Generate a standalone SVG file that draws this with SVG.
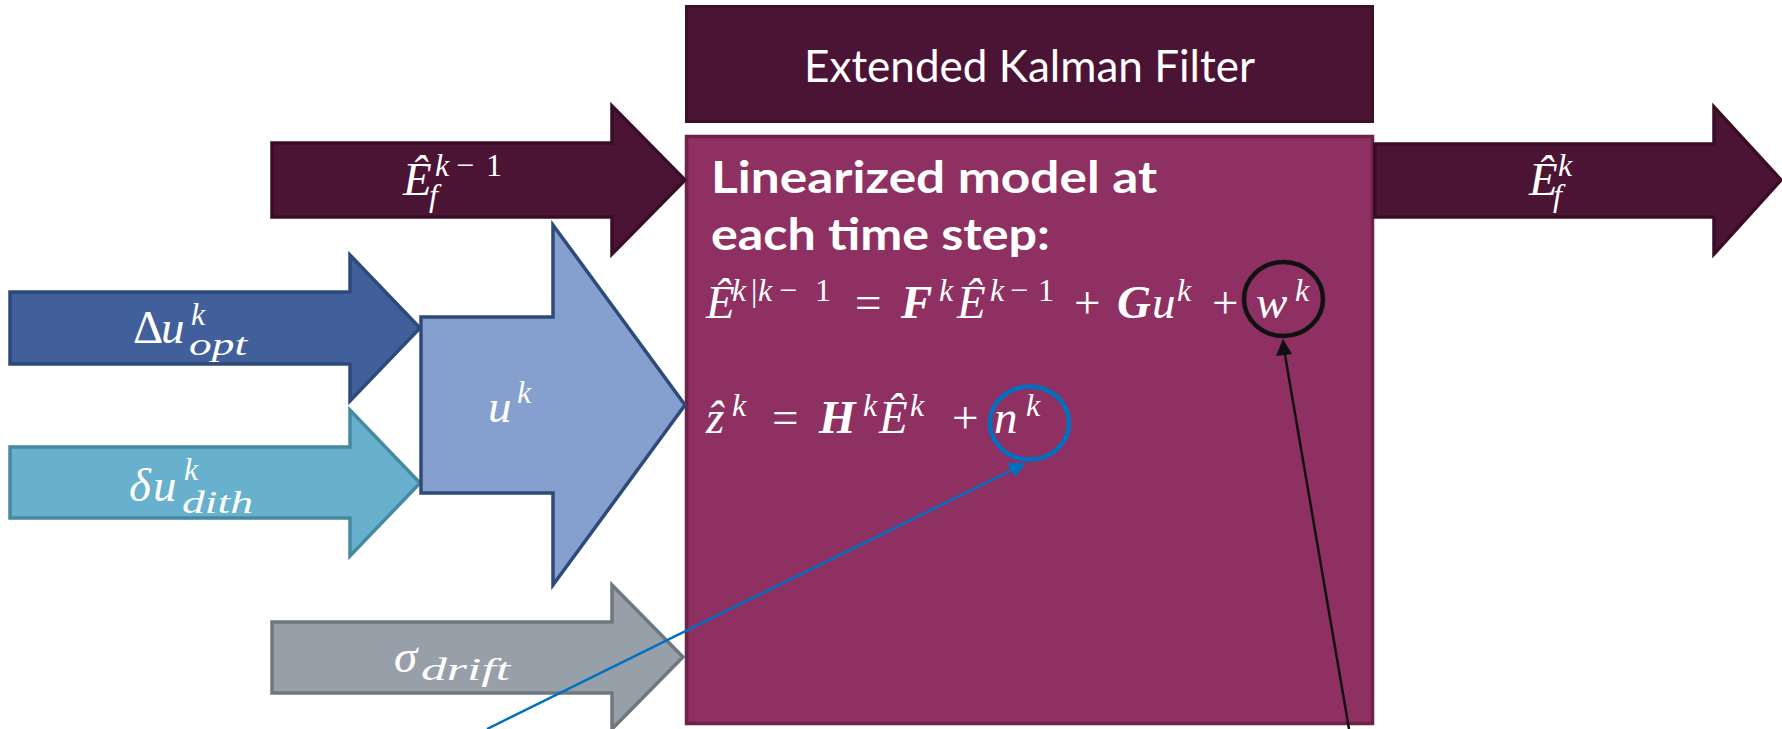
<svg xmlns="http://www.w3.org/2000/svg" width="1782" height="729" viewBox="0 0 1782 729">
<style>
.m{font-family:"Liberation Serif","DejaVu Serif",serif;font-style:italic;fill:#fff;font-size:47px}
.s{font-size:32px}
.r{font-style:normal}
.b{font-weight:bold}
.t{font-family:Lato,"Liberation Sans",sans-serif;fill:#fff}
.arr{stroke-width:3.5;stroke-linejoin:miter}
</style>
<rect width="1782" height="729" fill="#fff"/>
<g id="title">
<rect x="686.5" y="6.5" width="686" height="115" fill="#4C1434" stroke="#3E0F2A" stroke-width="3"/>
<text class="t" x="1029.5" y="82" font-size="44" text-anchor="middle" textLength="451" lengthAdjust="spacingAndGlyphs">Extended Kalman Filter</text>
</g>
<g id="ekf">
<rect x="686.5" y="136.5" width="686" height="587" fill="#8E3162" stroke="#6C2249" stroke-width="3.5"/>
<text class="t" x="711" y="193" font-size="44" font-weight="bold" textLength="446" lengthAdjust="spacingAndGlyphs">Linearized model at</text>
<text class="t" x="711" y="250" font-size="44" font-weight="bold" textLength="339" lengthAdjust="spacingAndGlyphs">each time step:</text>
<text class="m"><tspan x="706" y="318">Ê</tspan><tspan class="s" x="732" y="301">k</tspan><tspan class="s r" x="751" y="301">|</tspan><tspan class="s" x="758" y="301">k</tspan><tspan class="s r" x="779" y="301">−</tspan><tspan class="s r" x="815" y="301">1</tspan><tspan class="r" x="855" y="318">=</tspan><tspan class="b" x="901" y="318">F</tspan><tspan class="s" x="939" y="301">k</tspan><tspan x="957" y="318">Ê</tspan><tspan class="s" x="990" y="301">k</tspan><tspan class="s r" x="1010" y="301">−</tspan><tspan class="s r" x="1038" y="301">1</tspan><tspan class="r" x="1074" y="318">+</tspan><tspan class="b" x="1117" y="318">G</tspan><tspan x="1152" y="318">u</tspan><tspan class="s" x="1177" y="301">k</tspan><tspan class="r" x="1212" y="318">+</tspan><tspan x="1256" y="318">w</tspan><tspan class="s" x="1295" y="301">k</tspan></text>
<text class="m"><tspan x="706" y="433">ẑ</tspan><tspan class="s" x="732" y="416">k</tspan><tspan class="r" x="772" y="433">=</tspan><tspan class="b" x="819" y="433">H</tspan><tspan class="s" x="863" y="416">k</tspan><tspan x="879" y="433">Ê</tspan><tspan class="s" x="910" y="416">k</tspan><tspan class="r" x="952" y="433">+</tspan><tspan x="994" y="433">n</tspan><tspan class="s" x="1026" y="416">k</tspan></text>
<ellipse cx="1283.5" cy="299" rx="39.5" ry="37" fill="none" stroke="#111" stroke-width="4.5"/>
<ellipse cx="1029.5" cy="423" rx="39.5" ry="36.5" fill="none" stroke="#0070C0" stroke-width="4.5"/>
</g>
<g id="ef_prev">
<polygon class="arr" points="272,143 612,143 612,106 685,180 612,254 612,217 272,217" fill="#4C1434" stroke="#3A0D27"/>
<text class="m"><tspan x="403" y="195">Ê</tspan><tspan class="s" x="435" y="176">k</tspan><tspan class="s r" x="456" y="176">−</tspan><tspan class="s r" x="486" y="176">1</tspan><tspan class="s" x="429" y="206">f</tspan></text>
</g>
<g id="ef_next">
<polygon class="arr" points="1375,144 1714,144 1714,107 1781,180 1714,254 1714,217 1375,217" fill="#4C1434" stroke="#3A0D27"/>
<text class="m"><tspan x="1529" y="195">Ê</tspan><tspan class="s" x="1558" y="176">k</tspan><tspan class="s" x="1553" y="206">f</tspan></text>
</g>
<g id="du_opt">
<polygon class="arr" points="10,292 350,292 350,255 420,328 350,401 350,364 10,364" fill="#41609B" stroke="#2E4A78"/>
<text class="m"><tspan class="r" x="133" y="343">Δ</tspan><tspan x="161" y="343">u</tspan><tspan class="s" x="191" y="325">k</tspan></text>
<text class="m s" x="189" y="355" textLength="58" lengthAdjust="spacingAndGlyphs">opt</text>
</g>
<g id="du_dith">
<polygon class="arr" points="10,447 350,447 350,410 420,483 350,556 350,518 10,518" fill="#67B1CE" stroke="#468A9F"/>
<text class="m"><tspan x="129" y="501">δ</tspan><tspan x="153" y="501">u</tspan><tspan class="s" x="184" y="480">k</tspan></text>
<text class="m s" x="182" y="513" textLength="71" lengthAdjust="spacingAndGlyphs">dith</text>
</g>
<g id="u">
<polygon class="arr" points="421,317 553,317 553,225 685,405 553,585 553,493 421,493" fill="#85A0CE" stroke="#2E4A78"/>
<text class="m"><tspan x="488" y="422">u</tspan><tspan class="s" x="517" y="403">k</tspan></text>
</g>
<g id="sigma">
<polygon class="arr" points="272,622 612,622 612,585 683,657 612,729 612,693 272,693" fill="#979FA8" stroke="#6F777F"/>
<text class="m"><tspan x="394" y="672">σ</tspan></text>
<text class="m s" x="421" y="680" textLength="89" lengthAdjust="spacingAndGlyphs">drift</text>
</g>
<g id="connectors">
<line x1="487" y1="729" x2="1016" y2="468" stroke="#0070C0" stroke-width="2.5"/>
<polygon points="1026,463 1007,463 1015,477" fill="#0070C0"/>
<line x1="1349" y1="729" x2="1284.5" y2="352" stroke="#111" stroke-width="2.5"/>
<polygon points="1283,339 1276,356 1292,354" fill="#111"/>
</g>
</svg>
